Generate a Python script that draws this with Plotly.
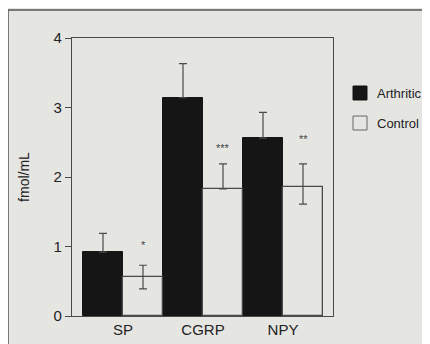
import plotly.graph_objects as go

categories = ["SP", "CGRP", "NPY"]
arthritic = [0.92, 3.14, 2.56]
arthritic_err = [0.27, 0.49, 0.37]
control = [0.56, 1.83, 1.86]
control_err_up = [0.17, 0.36, 0.33]
control_err_down = [0.17, 0.0, 0.25]
sig_labels = ["*", "***", "**"]
sig_y = [1.02, 2.42, 2.55]
y_ticks = [0, 1, 2, 3, 4]
legend_names = ["Arthritic", "Control"]

BG = "#e5e5e2"
LINE = "#4a4a4a"
DARK = "#151515"
FONT = "Liberation Sans, Arial, sans-serif"

xs = list(range(len(categories)))

fig = go.Figure()
fig.add_trace(go.Bar(
    x=xs, y=arthritic, name=legend_names[0], offset=-0.5, width=0.5,
    marker=dict(color=DARK, line=dict(color=DARK, width=1)),
    error_y=dict(type="data", array=arthritic_err, arrayminus=[0]*3,
                 color=LINE, thickness=1.2, width=4),
))
fig.add_trace(go.Bar(
    x=xs, y=control, name=legend_names[1], offset=0, width=0.5,
    marker=dict(color=BG, line=dict(color=LINE, width=1.3)),
    error_y=dict(type="data", array=control_err_up, arrayminus=control_err_down,
                 color=LINE, thickness=1.2, width=4),
))

for i, (lab, yv) in enumerate(zip(sig_labels, sig_y)):
    fig.add_annotation(x=xs[i] + 0.25, y=yv, text=lab, showarrow=False,
                       font=dict(size=11, color="#444", family=FONT))

# manual legend (paper coords; plot area is 261 x 278 px, screen left 72, bottom 316)
PW, PH = 261.0, 278.0
leg_x0 = (353 - 72) / PW
leg_x1 = (367 - 72) / PW
leg_tx = (375 - 72) / PW
for name, yc, fill, lc in [(legend_names[0], 93, DARK, DARK),
                           (legend_names[1], 123, BG, "#666")]:
    yp = (316 - yc) / PH
    fig.add_shape(type="rect", xref="paper", yref="paper",
                  x0=leg_x0, x1=leg_x1, y0=yp - 7 / PH, y1=yp + 7 / PH,
                  fillcolor=fill, line=dict(color=lc, width=1))
    fig.add_annotation(xref="paper", yref="paper", x=leg_tx, y=yp, text=name,
                       xanchor="left", yanchor="middle", showarrow=False,
                       font=dict(size=13, color="#222", family=FONT))

# outer panel frame
fig.add_shape(type="rect", xref="paper", yref="paper",
              x0=(8 - 72) / PW, x1=1.6, y0=-0.3, y1=(316 - 10) / PH,
              line=dict(color="#555", width=1.5), fillcolor="rgba(0,0,0,0)",
              layer="below")

# page body has an 8px margin, so the figure is shifted by 8px
fig.update_layout(
    width=422, height=336,
    margin=dict(l=64, r=97, t=30, b=28, autoexpand=False),
    paper_bgcolor=BG, plot_bgcolor=BG,
    font=dict(family=FONT, size=14, color="#222"),
    showlegend=False,
    bargap=0,
)
fig.update_xaxes(
    tickvals=xs, ticktext=categories, range=[-0.6375, 2.625],
    showline=True, linecolor=LINE, linewidth=1.3, mirror=True,
    ticks="", showgrid=False, zeroline=False, automargin=False,
    tickfont=dict(size=15, family=FONT, color="#222"),
)
fig.update_yaxes(
    range=[0, 4], tickvals=y_ticks,
    showline=True, linecolor=LINE, linewidth=1.3, mirror=True,
    ticks="outside", ticklen=6, tickcolor=LINE, tickwidth=1.2,
    showgrid=False, zeroline=False, automargin=False,
    title=dict(text="fmol/mL", font=dict(size=14, family=FONT, color="#222"), standoff=20),
    tickfont=dict(size=15, family=FONT, color="#222"),
)

fig.write_html("out.html")
